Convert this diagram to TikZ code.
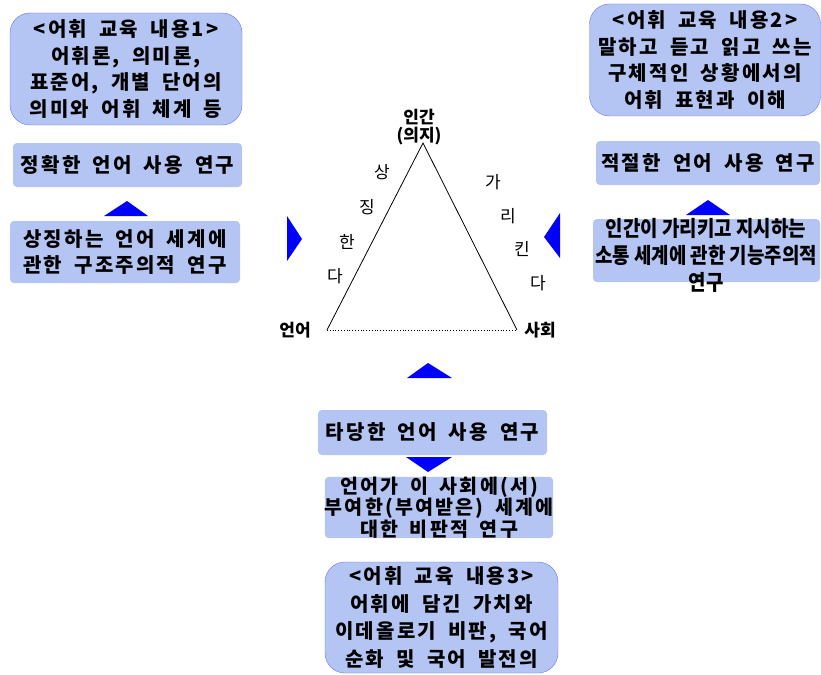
\documentclass[tikz,border=0pt]{standalone}
\usepackage{fontspec}
\usepackage{tikz}
\usetikzlibrary{positioning}
\newfontfamily\kr[LetterSpace=11,WordSpace=1.8]{Noto Sans CJK KR}
\newfontfamily\krn[FakeStretch=0.88]{Noto Sans CJK KR}
\newfontfamily\krl{Noto Sans CJK KR}
\definecolor{boxfill}{HTML}{B4C5F3}
\definecolor{boxline}{HTML}{6A78EE}

\begin{document}
\begin{tikzpicture}[x=1pt,y=-1pt,
    content/.style={draw=boxline, fill=boxfill, rounded corners=20pt, align=center, inner sep=0pt,
        font=\kr\bfseries\fontsize{20}{26.5}\selectfont},
    study/.style={fill=boxfill, rounded corners=4pt, align=center, inner sep=0pt,
        font=\kr\bfseries\fontsize{20}{26}\selectfont},
    vertex/.style={font=\krl\bfseries\fontsize{17}{18}\selectfont},
    verb/.style={font=\krl\fontsize{17}{18}\selectfont}]
    \useasboundingbox (0,0) rectangle (821,674);

    % 어휘 교육 내용1
    \begin{scope}
        \node[content, minimum width=232pt, minimum height=112pt] (edu1) at (126,69)
            {<어휘 교육 내용1>\\어휘론, 의미론,\\표준어, 개별 단어의\\의미와 어휘 체계 등};
        \node[study, minimum width=229pt, minimum height=44pt] (accurate) at (127.5,165) {정확한 언어 사용 연구};
        \node[study, minimum width=230pt, minimum height=62pt] (structural) at (125,252)
            {상징하는 언어 세계에\\관한 구조주의적 연구};
        \fill[blue] (127,201) -- (104,216) -- (148,216) -- cycle;
    \end{scope}

    % 어휘 교육 내용2
    \begin{scope}
        \node[content, minimum width=231pt, minimum height=112pt] (edu2) at (705,60)
            {<어휘 교육 내용2>\\말하고 듣고 읽고 쓰는\\구체적인 상황에서의\\어휘 표현과 이해};
        \node[study, minimum width=224pt, minimum height=44pt] (appropriate) at (708,163) {적절한 언어 사용 연구};
        \node[study, minimum width=227pt, minimum height=63pt] (functional) at (706.5,250.5) {};
        \node[align=center, inner sep=0pt, font=\krn\bfseries\fontsize{21.5}{27}\selectfont] (functext) at (706,255)
            {인간이 가리키고 지시하는\\소통 세계에 관한 기능주의적\\연구};
        \fill[blue] (708,200) -- (686,215) -- (730,215) -- cycle;
    \end{scope}

    % 어휘 교육 내용3
    \begin{scope}
        \fill[blue] (428,363) -- (407,378) -- (452,378) -- cycle;
        \node[study, minimum width=229pt, minimum height=45pt] (valid) at (432.5,432.5) {타당한 언어 사용 연구};
        \fill[blue] (406,457) -- (452,457) -- (428,472) -- cycle;
        \node[study, minimum width=228pt, minimum height=61pt, font=\kr\bfseries\fontsize{19.5}{21.5}\selectfont] (critical) at (439,507.5)
            {언어가 이 사회에(서)\\부여한(부여받은) 세계에\\대한 비판적 연구};
        \node[content, minimum width=233pt, minimum height=111pt, font=\kr\bfseries\fontsize{20}{27.5}\selectfont] (edu3) at (441.5,617.5)
            {<어휘 교육 내용3>\\어휘에 담긴 가치와\\이데올로기 비판, 국어\\순화 및 국어 발전의};
    \end{scope}

    % 삼각형
    \coordinate (top) at (423,143);
    \coordinate (left) at (327,330);
    \coordinate (right) at (517,330);
    \draw[line width=0.8pt] (left) -- (top) -- (right);
    \draw[dotted, line width=0.8pt] (left) -- (right);
    \node[vertex] (human) at (419,117) {인간};
    \node[vertex] (will) at (419,136) {(의지)};
    \node[vertex] (lang) at (295,330) {언어};
    \node[vertex] (society) at (540,330) {사회};
    \node[verb] (s1) at (382,172) {상};
    \node[verb] (s2) at (367,207) {징};
    \node[verb] (s3) at (347,242) {한};
    \node[verb] (s4) at (335,276) {다};
    \node[verb] (g1) at (493,182) {가};
    \node[verb] (g2) at (508,216) {리};
    \node[verb] (g3) at (522,249) {킨};
    \node[verb] (g4) at (538,283) {다};
    \fill[blue] (287,216) -- (287,261) -- (302,239) -- cycle;
    \fill[blue] (560,213) -- (560,258) -- (544,237) -- cycle;
\end{tikzpicture}
\end{document}
